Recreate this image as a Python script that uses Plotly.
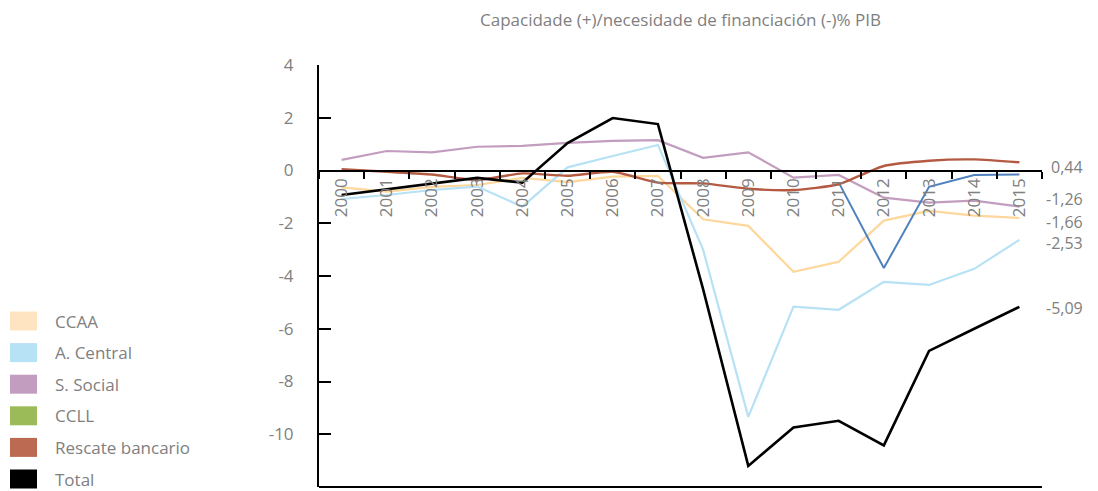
import plotly.graph_objects as go

years = [str(y) for y in range(2000, 2016)]

ccaa = [-0.64, -0.80, -0.62, -0.55, -0.28, -0.44, -0.23, -0.20, -1.85, -2.10, -3.84, -3.46, -1.90, -1.53, -1.71, -1.80]
a_central = [-1.08, -0.93, -0.74, -0.61, -1.37, 0.12, 0.55, 0.97, -3.00, -9.34, -5.16, -5.28, -4.22, -4.34, -3.73, -2.63]
s_social = [0.40, 0.74, 0.69, 0.90, 0.93, 1.05, 1.12, 1.15, 0.48, 0.69, -0.27, -0.17, -1.03, -1.22, -1.14, -1.37]
ccll = [None, None, None, None, None, None, None, None, None, None, None, -0.45, -3.70, -0.62, -0.17, -0.15]
rescate = [0.05, -0.05, -0.15, -0.36, -0.11, -0.20, -0.05, -0.46, -0.49, -0.69, -0.74, -0.52, 0.17, 0.37, 0.42, 0.31]
total = [-0.93, -0.72, -0.50, -0.28, -0.46, 1.04, 1.99, 1.76, -4.50, -11.20, -9.74, -9.49, -10.42, -6.84, -6.00, -5.17]

series_names = ["CCAA", "A. Central", "S. Social", "CCLL", "Rescate bancario", "Total"]
series_values = [ccaa, a_central, s_social, ccll, rescate, total]
line_colors = ["#FDD79B", "#B7E1F5", "#C29DBF", "#4F81BD", "#B55A42", "#000000"]
legend_colors = ["#FFE4C2", "#B7E1F5", "#C29DBF", "#9BBB59", "#BC6B52", "#000000"]
line_widths = [2.2, 2.2, 2.2, 2, 2.4, 2.6]
line_shapes = ["linear", "linear", "linear", "linear", "spline", "linear"]

end_labels = ["0,44", "-1,26", "-1,66", "-2,53", "-5,09"]
end_label_y = [0.14, -1.09, -1.94, -2.75, -5.21]

y_ticks = list(range(4, -13, -2))

title_text = "Capacidade (+)/necesidade de financiación (-)% PIB"

FONT = "Open Sans"
GRAY = "#808080"

fig = go.Figure()
for name, vals, col, w, sh in zip(series_names, series_values, line_colors, line_widths, line_shapes):
    fig.add_trace(go.Scatter(
        x=years, y=vals, name=name, mode="lines",
        line=dict(color=col, width=w, shape=sh, smoothing=0.6),
        connectgaps=False, showlegend=False,
    ))

# The page body has an 8px margin; target pixel positions are in window coordinates.
OFF = 8
Wwin, Hwin = 1098, 491
W, H = Wwin - OFF, Hwin - OFF
# plot area in window pixels
L, R, T, B = 319, 1042, 65, 487
pw = R - L
ph = B - T

def px_to_paper_x(px):
    return (px - L) / pw

def py_to_paper_y(py):
    return (B - py) / ph

shapes = []
annotations = []

# bottom border line
shapes.append(dict(type="line", xref="paper", yref="paper", x0=0, x1=1, y0=0, y1=0,
                   line=dict(color="black", width=2)))

# custom legend
for i, (name, col) in enumerate(zip(series_names, legend_colors)):
    cy = 321 + i * 31.6
    shapes.append(dict(type="rect", xref="paper", yref="paper",
                       x0=px_to_paper_x(10), x1=px_to_paper_x(37),
                       y0=py_to_paper_y(cy + 9.5), y1=py_to_paper_y(cy - 9.5),
                       fillcolor=col, line=dict(width=0)))
    annotations.append(dict(xref="paper", yref="paper", x=px_to_paper_x(53), y=py_to_paper_y(cy),
                            text=name, showarrow=False, xanchor="left", yanchor="middle",
                            font=dict(family=FONT, size=17, color=GRAY)))

# end labels (right-aligned)
for txt, yv in zip(end_labels, end_label_y):
    annotations.append(dict(xref="paper", yref="y", x=px_to_paper_x(1085), y=yv,
                            text=txt, showarrow=False, xanchor="right", yanchor="middle",
                            font=dict(family=FONT, size=16, color=GRAY)))

# title
annotations.append(dict(xref="paper", yref="paper", x=px_to_paper_x(680), y=py_to_paper_y(20),
                        text=title_text, showarrow=False, xanchor="center", yanchor="middle",
                        font=dict(family=FONT, size=17, color=GRAY)))

fig.update_layout(
    width=W, height=H,
    margin=dict(l=L - OFF, r=Wwin - R, t=T - OFF, b=Hwin - B, pad=0),
    paper_bgcolor="white", plot_bgcolor="white",
    font=dict(family=FONT, color=GRAY),
    shapes=shapes, annotations=annotations,
    showlegend=False,
    xaxis=dict(
        type="category", range=[-0.5, 15.5],
        anchor="free", position=12 / 16,
        showline=True, linecolor="black", linewidth=2,
        ticks="outside", tickson="boundaries", ticklen=7, tickcolor="black", tickwidth=2,
        tickangle=-90, tickfont=dict(family=FONT, size=17, color=GRAY),
        showgrid=False, zeroline=False,
    ),
    yaxis=dict(
        range=[-12, 4], tickvals=y_ticks, ticktext=[str(v) for v in y_ticks],
        showline=True, linecolor="black", linewidth=2,
        ticks="inside", ticklen=12, tickcolor="black", tickwidth=2,
        ticklabelstandoff=20,
        tickfont=dict(family=FONT, size=17, color=GRAY),
        showgrid=False, zeroline=False,
    ),
)

fig.write_html("out.html")
